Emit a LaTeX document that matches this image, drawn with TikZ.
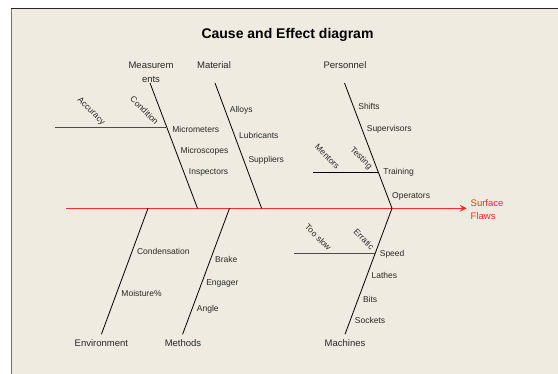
\documentclass[tikz,border=0pt]{standalone}
\usepackage{fontspec}
\setmainfont{Liberation Sans}
\usetikzlibrary{arrows.meta,positioning,calc}
\definecolor{paper}{RGB}{239,235,224}
\definecolor{spinered}{RGB}{255,45,45}
\definecolor{ink}{RGB}{40,40,40}
\tikzset{
  bone/.style={line width=0.8pt, black},
  twig/.style={line width=1pt, black!70},
  cause/.style={anchor=west, inner sep=0pt, xshift=4.5pt, text=ink,
    font=\fontsize{8.5}{10}\selectfont},
  slant/.style={rotate=-45, inner sep=0pt, text=ink,
    font=\fontsize{8.5}{10}\selectfont},
  cat/.style={inner sep=0pt, align=center, text=ink,
    font=\fontsize{9.5}{14}\selectfont},
}

\begin{document}
\begin{tikzpicture}[x=1pt,y=-1pt]
	\useasboundingbox (0,0) rectangle (558,374);
	\fill[white] (0,0) rectangle (558,374);

% fondo
	\fill[paper] (11.3,8.3) rectangle (558,374);
	\draw[black!55, line width=1.2pt] (11.3,374) -- (11.3,8.3);
	\draw[black!85, line width=1pt] (11.3,8.3) -- (558,8.3);

	\node[font=\bfseries\fontsize{14}{16}\selectfont] (title) at (287.5,35) {Cause and Effect diagram};

% espina
	\coordinate (tail) at (66,208.3);
	\coordinate (head) at (466.7,208.3);
	\draw[spinered, line width=0.9pt, -{Stealth[length=7pt,width=7pt,inset=2.5pt]}] (tail) -- (head);
	\node[anchor=west, inner sep=0pt, align=left, text=spinered,
		font=\fontsize{9.5}{13.3}\selectfont] (effect) at (470.5,209.4) {Surface\\Flaws};

% espinas de arriba
	\coordinate (meas-top) at (150,83);
	\coordinate (meas-bot) at (197.5,208.3);
	\coordinate (mat-top) at (215,83);
	\coordinate (mat-bot) at (261.6,208.3);
	\coordinate (pers-top) at (344.5,83);
	\coordinate (pers-bot) at (392,208.3);

	\node[cat] (meas) at (151,72) {Measurem\\ents};
	\node[cat] (mat) at (214,65) {Material};
	\node[cat] (pers) at (345,65) {Personnel};

	\draw[bone] (meas-top) -- (meas-bot)
		node[cause, pos=.367] (micrometers) {Micrometers}
		node[cause, pos=.543] (microscopes) {Microscopes}
		node[cause, pos=.716] (inspectors) {Inspectors};
	\draw[bone] (mat-top) -- (mat-bot)
		node[cause, pos=.215] (alloys) {Alloys}
		node[cause, pos=.415] (lubricants) {Lubricants}
		node[cause, pos=.615] (suppliers) {Suppliers};
	\draw[bone] (pers-top) -- (pers-bot)
		node[cause, pos=.19] (shifts) {Shifts}
		node[cause, pos=.367] (supervisors) {Supervisors}
		node[cause, pos=.716] (training) {Training}
		node[cause, pos=.902] (operators) {Operators};

% espinas de abajo
	\coordinate (env-top) at (148,208.3);
	\coordinate (env-bot) at (101.4,334.3);
	\coordinate (meth-top) at (229.5,208.3);
	\coordinate (meth-bot) at (182.6,334.3);
	\coordinate (mach-top) at (392,208.3);
	\coordinate (mach-bot) at (345,334.3);

	\node[cat] (env) at (101.4,342.7) {Environment};
	\node[cat] (meth) at (183,342.7) {Methods};
	\node[cat] (mach) at (345,342.7) {Machines};

	\draw[bone] (env-top) -- (env-bot)
		node[cause, pos=.339] (condensation) {Condensation}
		node[cause, pos=.675] (moisture) {Moisture\%};
	\draw[bone] (meth-top) -- (meth-bot)
		node[cause, pos=.41] (brake) {Brake}
		node[cause, pos=.60] (engager) {Engager}
		node[cause, pos=.798] (angle) {Angle};
	\draw[bone] (mach-top) -- (mach-bot)
		node[cause, pos=.363] (speed) {Speed}
		node[cause, pos=.537] (lathes) {Lathes}
		node[cause, pos=.72] (bits) {Bits}
		node[cause, pos=.894] (sockets) {Sockets};

% ramitas
	\coordinate (acc-root) at ($(meas-top)!.354!(meas-bot)$);
	\coordinate (acc-tip) at ([xshift=-111.8pt]acc-root);
	\draw[twig] (acc-tip) -- (acc-root);
	\node[slant] (accuracy) at (91,111.5) {Accuracy};
	\node[slant] (condition) at (144.5,110.3) {Condition};

	\coordinate (trn-root) at ($(pers-top)!.714!(pers-bot)$);
	\coordinate (trn-tip) at ([xshift=-65pt]trn-root);
	\draw[bone] (trn-tip) -- (trn-root);
	\node[slant] (mentors) at (327.3,156.7) {Mentors};
	\node[slant] (testing) at (361,158.3) {Testing};

	\coordinate (spd-root) at ($(mach-top)!.355!(mach-bot)$);
	\coordinate (spd-tip) at ([xshift=-81.3pt]spd-root);
	\draw[twig] (spd-tip) -- (spd-root);
	\node[slant] (tooslow) at (318.3,237.3) {Too slow};
	\node[slant] (erratic) at (364,239.3) {Erratic};
\end{tikzpicture}
\end{document}
